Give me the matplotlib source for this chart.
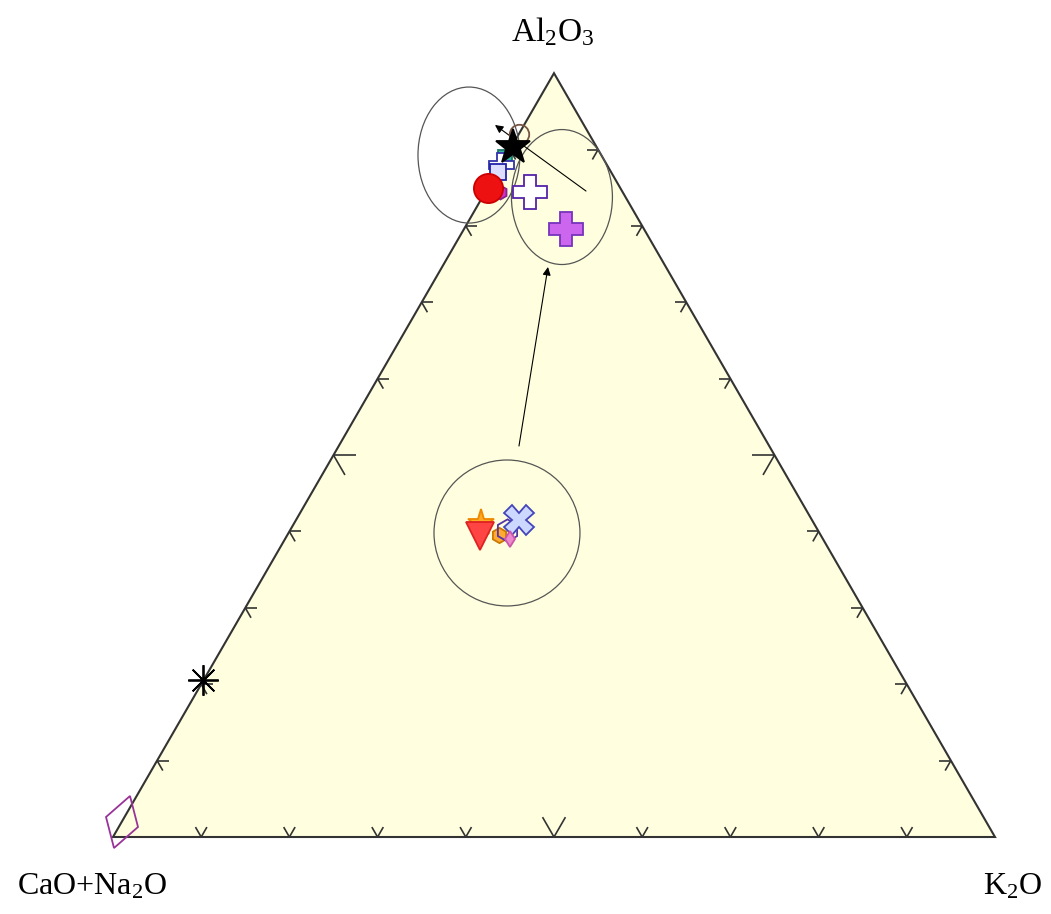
import numpy as np
import matplotlib.pyplot as plt
from matplotlib.patches import Polygon, Ellipse
from matplotlib.markers import MarkerStyle
from matplotlib.transforms import Affine2D

plt.rcParams['mathtext.fontset'] = 'custom'
plt.rcParams['mathtext.rm'] = 'Liberation Serif'
plt.rcParams['mathtext.it'] = 'Liberation Serif:italic'
plt.rcParams['font.family'] = ['Liberation Serif', 'DejaVu Serif']

# A-CN-K compositions (molar %): Al2O3, CaO+Na2O, K2O
al2o3    = [89.0, 88.0, 87.0, 84.4, 85.0, 92.0, 90.3, 84.4, 79.6,
            41.1, 39.4, 39.5, 40.2, 41.5, 39.0,
            20.5, 2.0]
cao_na2o = [11.0, 12.0, 12.9, 13.9, 15.0, 8.0, 9.5, 10.5, 8.8,
            37.7, 38.7, 36.5, 35.2, 33.2, 35.5,
            79.5, 98.0]
k2o      = [0.0, 0.0, 0.1, 1.7, 0.0, 0.0, 0.2, 5.1, 11.6,
            21.2, 21.9, 24.0, 24.6, 25.3, 25.5,
            0.0, 0.0]

diamond = MarkerStyle('D', transform=Affine2D().scale(0.6, 1.0).rotate_deg(-18))
styles = [
    dict(marker='s', mfc='#33bbaa', mec='#227766', ms=10),
    dict(marker='P', mfc='white', mec='#3333aa', ms=18),
    dict(marker='s', mfc='#ddddff', mec='#2222aa', ms=12),
    dict(marker='h', mfc='#cc33cc', mec='#882288', ms=10),
    dict(marker='o', mfc='#ee1111', mec='#cc0000', ms=21),
    dict(marker='o', mfc='none', mec='#775544', ms=14),
    dict(marker='*', mfc='black', mec='black', ms=26),
    dict(marker='P', mfc='white', mec='#5522aa', ms=24),
    dict(marker='P', mfc='#cc66ee', mec='#7733bb', ms=24),
    dict(marker='*', mfc='#ffaa22', mec='#ee8800', ms=20),
    dict(marker='v', mfc='#ff4444', mec='#dd2222', ms=20),
    dict(marker='h', mfc='#ffaa33', mec='#cc7700', ms=11),
    dict(marker='h', mfc='none', mec='#5533aa', ms=16),
    dict(marker='X', mfc='#ccd8ff', mec='#4444bb', ms=21),
    dict(marker='d', mfc='#ee88cc', mec='#cc55aa', ms=8),
    dict(marker=(8, 2, 0), mfc='black', mec='black', ms=22),
    dict(marker=diamond, mfc='none', mec='#993399', ms=28),
]

H = np.sqrt(3) / 2


def to_xy(a, cn, k):
    s = a + cn + k
    a, k = a / s, k / s
    return k + a / 2, a * H


fig = plt.figure(figsize=(10.51, 9.14), dpi=100)
ax = fig.add_axes([0, 0, 1, 1])
ax.set_xlim(-0.1281, 1.0635)
ax.set_ylim(-0.0873, 0.949)
ax.axis('off')

# triangle frame
tri = Polygon([(0, 0), (1, 0), (0.5, H)], closed=True, fc='#ffffdf',
              ec='#333333', lw=1.5, zorder=1)
ax.add_patch(tri)

# edge ticks every 10 %, longer at 50 %
for i in range(1, 10):
    t = i / 10
    L = 0.026 if i == 5 else 0.013
    c60, s60 = 0.5, H
    ticks = [
        ((t, 0), [(c60, s60), (-c60, s60)]),
        ((t / 2, t * H), [(1, 0), (c60, -s60)]),
        ((1 - t / 2, t * H), [(-1, 0), (-c60, -s60)]),
    ]
    for (px, py), dirs in ticks:
        for dx, dy in dirs:
            ax.plot([px, px + L * dx], [py, py + L * dy], color='#333333',
                    lw=1.2, zorder=2, solid_capstyle='butt')

# group outlines
ax.add_patch(Ellipse((0.4036, 0.7732), 0.1156, 0.1542, fill=False,
                     ec='#555555', lw=0.9, zorder=3))
ax.add_patch(Ellipse((0.509, 0.7256), 0.1145, 0.153, fill=False,
                     ec='#555555', lw=0.9, zorder=3))
ax.add_patch(Ellipse((0.4467, 0.3447), 0.1655, 0.1655, fill=False,
                     ec='#555555', lw=0.9, zorder=3))

# trend arrows
arrow = dict(arrowstyle='-|>', color='black', lw=0.8, mutation_scale=12,
             shrinkA=0, shrinkB=0)
ax.annotate('', xy=(0.4932, 0.6463), xytext=(0.4603, 0.4433),
            arrowprops=arrow, zorder=3)
ax.annotate('', xy=(0.4331, 0.8073), xytext=(0.5363, 0.7324),
            arrowprops=arrow, zorder=3)

# samples
for a, cn, k, st in zip(al2o3, cao_na2o, k2o, styles):
    x, y = to_xy(a, cn, k)
    ax.plot([x], [y], linestyle='none', mew=1.3, zorder=4, **st)

# apex labels
ax.text(0.4989, 0.913, r'Al$_2$O$_3$', fontsize=24, ha='center', va='center')
ax.text(-0.0238, -0.0567, r'CaO+Na$_2$O', fontsize=23, ha='center', va='center')
ax.text(1.0204, -0.0567, r'K$_2$O', fontsize=23, ha='center', va='center')

fig.savefig('out.png', dpi=100)
